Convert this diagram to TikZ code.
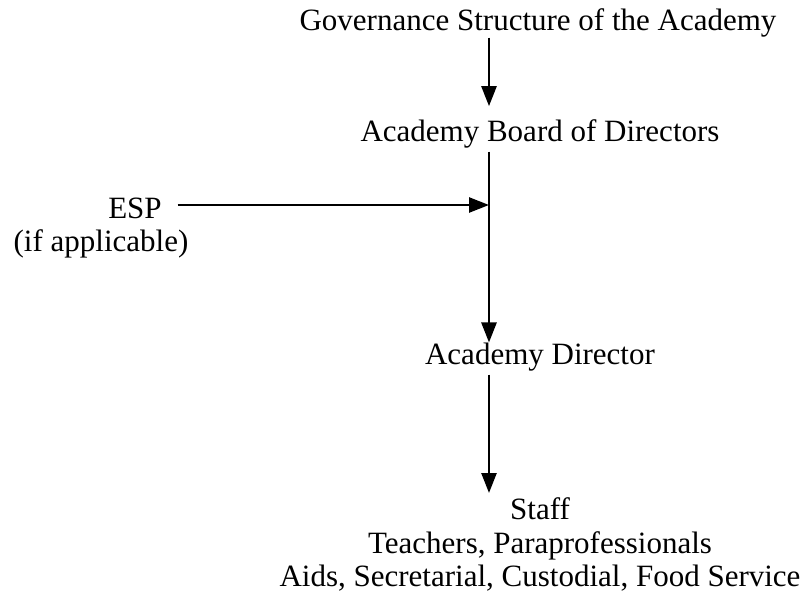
\documentclass[tikz,border=0pt]{standalone}
\usepackage{fontspec}
\setmainfont{Liberation Serif}
\usetikzlibrary{arrows.meta}

\begin{document}
\begin{tikzpicture}[x=1pt,y=-1pt,
    lbl/.style={inner sep=0pt, outer sep=0pt, font=\fontsize{31}{33.5}\selectfont},
    link/.style={line width=2.5pt, -{Triangle[length=20pt,width=15pt]}}]
      \useasboundingbox (0,0) rectangle (809,594);

      % governance chain
      \node (gov) at (538,31)  [lbl, anchor=base] {Governance Structure of the Academy};
      \node (board) at (540,141)  [lbl, anchor=base] {Academy Board of Directors};
      \node (dir) at (540,364)  [lbl, anchor=base] {Academy Director};
      \node (staff) at (540,498)  [lbl, anchor=north, align=center]
        {Staff\\Teachers, Paraprofessionals\\Aids, Secretarial, Custodial, Food Service};

      % ESP
      \node (esp) at (135,218)  [lbl, anchor=base] {ESP};
      \node (espnote) at (101,251)  [lbl, anchor=base] {(if applicable)};
      \coordinate (join) at (489,205);

      \draw[link, shorten >=13pt] (gov.south -| join) to (board.north -| join);
      \draw[link, shorten <=4pt] (board.south -| join) to (dir.north -| join);
      \draw[link, shorten <=4pt, shorten >=5pt] (dir.south -| join) to (staff.north -| join);
      \draw[link, shorten <=16pt] (esp.east |- join) to (join);
\end{tikzpicture}
\end{document}
